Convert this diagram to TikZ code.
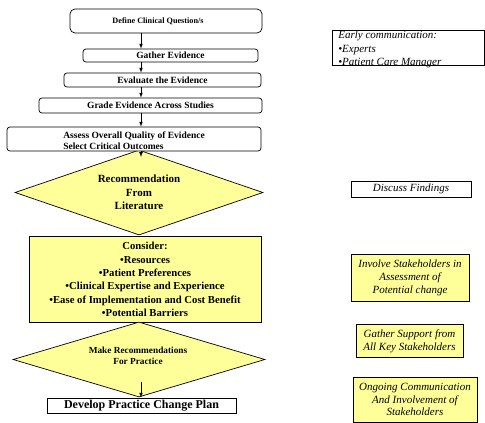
\documentclass[tikz,border=0pt]{standalone}
\usepackage{fontspec}
\setmainfont{Liberation Serif}
\usetikzlibrary{shapes.geometric}
\definecolor{jaune}{HTML}{FFFF99}
\begin{document}
\begin{tikzpicture}[>=latex,x=1pt,y=-1pt,line width=.7pt,
  etape/.style={draw,rounded corners=3pt,fill=white,inner sep=0pt,align=center,font=\fontsize{9.5}{11}\selectfont\bfseries},
  losange/.style={draw,diamond,fill=jaune,inner sep=0pt,align=center},
  remarque/.style={draw,inner sep=0pt,align=center,font=\fontsize{11}{13}\selectfont\itshape}]
\useasboundingbox (0,0) rectangle (485,423);
\coordinate (ax) at (141,0);%l'axe des fleches

\node [losange,minimum width=248,minimum height=85,aspect=2.9,font=\fontsize{11}{13.5}\selectfont\bfseries] (lit) at (139,192.5) {Recommendation\\From\\Literature};

\node [etape,rounded corners=5pt,minimum width=192,minimum height=24] (define) at (166,21) {};
\node [font=\fontsize{8.2}{10}\selectfont\bfseries,inner sep=0pt] (definetxt) at (158,21.5) {Define Clinical Question/s};
\node [etape,minimum width=175,minimum height=13] (gather) at (170.5,55.5) {Gather Evidence};
\node [etape,minimum width=197,minimum height=14] (evaluate) at (162.5,80) {Evaluate the Evidence};
\node [etape,minimum width=223,minimum height=15] (grade) at (150.5,105.5) {Grade Evidence Across Studies};
\node [etape,minimum width=254,minimum height=24] (assess) at (134,139) {};
\node [etape,draw=none,fill=none,align=left,anchor=west] (assesstxt) at (63,140.5) {Assess Overall Quality of Evidence\\Select Critical Outcomes};

\node [draw,fill=jaune,inner sep=0pt,minimum width=232,minimum height=86,align=center,font=\fontsize{10.7}{13.3}\selectfont\bfseries] (consider) at (145,279.5) {Consider:\\•Resources\\•Patient Preferences\\•Clinical Expertise and Experience\\•Ease of Implementation and Cost Benefit\\•Potential Barriers};

\node [losange,minimum width=252,minimum height=75,aspect=3.36] (practice) at (139,359.5) {};
\node [font=\fontsize{9.3}{11}\selectfont\bfseries,align=center,inner sep=0pt] (practicetxt) at (138,355.5) {Make Recommendations\\For Practice};

\node [draw,fill=white,inner sep=0pt,minimum width=189,minimum height=15,font=\fontsize{12}{14}\selectfont\bfseries] (develop) at (141.5,405.5) {Develop Practice Change Plan};

% les fleches
\coordinate (littip) at (141,157);
\coordinate (practicestart) at (141,382);
\draw [->] (define.south -| ax) -- (gather.north -| ax);
\draw [->] (gather.south -| ax) -- (evaluate.north -| ax);
\draw [->] (evaluate.south -| ax) -- (grade.north -| ax);
\draw [->] (grade.south -| ax) -- (assess.north -| ax);
\draw [->] (assess.south -| ax) -- (littip);
\draw [->] (practicestart) -- (develop.north -| ax);

% colonne de droite
\node [remarque,minimum width=152,minimum height=35] (early) at (408,47.5) {};
\node [font=\fontsize{11}{13.5}\selectfont\itshape,align=left,anchor=north west,inner sep=0pt] (earlytxt) at (338,31) {Early communication:\\•Experts\\•Patient Care Manager};
\draw (early.south west) -- (early.south east);
\node [remarque,minimum width=120,minimum height=16] (discuss) at (411,189) {Discuss Findings};
\node [remarque,fill=jaune,minimum width=118,minimum height=47] (involve) at (410,278) {Involve Stakeholders in\\Assessment of\\Potential change};
\node [remarque,fill=jaune,minimum width=107,minimum height=33] (support) at (409.5,341) {Gather Support from\\All Key Stakeholders};
\node [remarque,fill=jaune,minimum width=124,minimum height=45,font=\fontsize{11}{12.5}\selectfont\itshape] (ongoing) at (415,399.5) {Ongoing Communication\\And Involvement of\\Stakeholders};
\end{tikzpicture}
\end{document}
